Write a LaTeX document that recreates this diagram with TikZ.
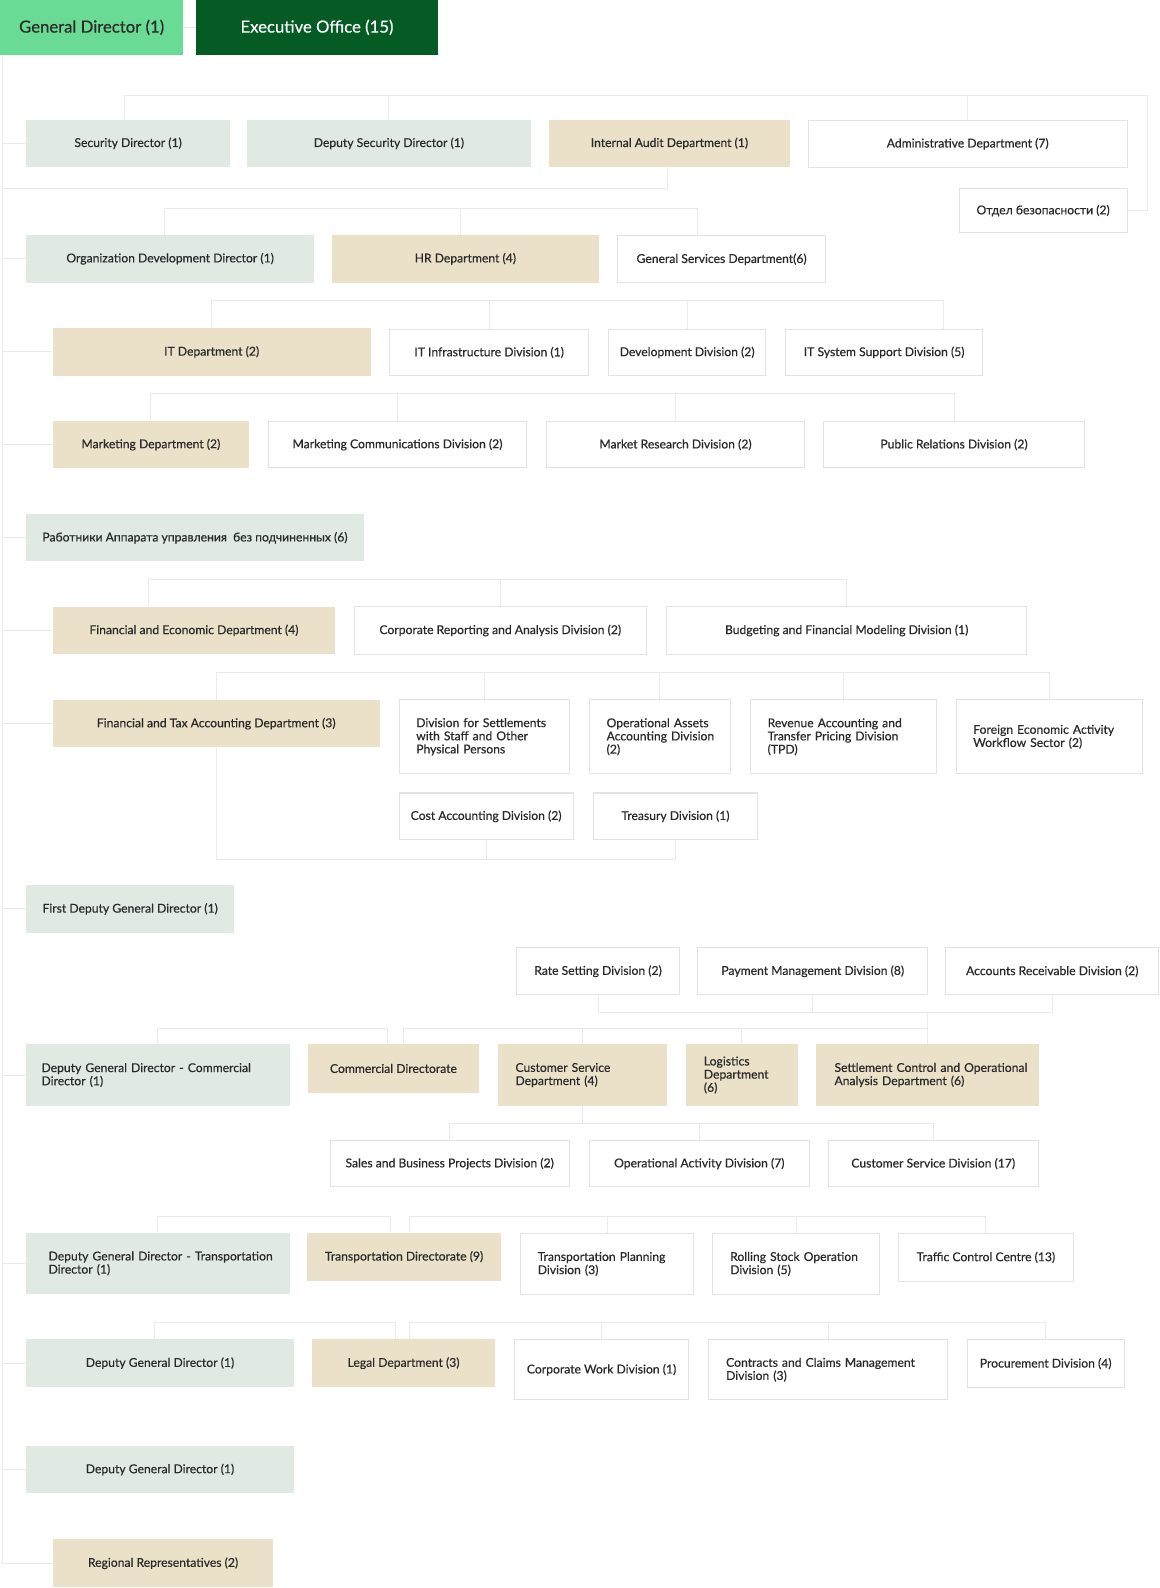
\documentclass[tikz,border=0pt]{standalone}
\usepackage{fontspec}
\setmainfont{Lato}
\newfontfamily\bodyfont{Lato}[FakeBold=0.5]
\definecolor{gdc}{HTML}{6ADB95}
\definecolor{eoc}{HTML}{045B24}
\definecolor{dirc}{HTML}{E0EAE2}
\definecolor{depc}{HTML}{EBE1C9}
\definecolor{bordc}{HTML}{E3E3E3}
\definecolor{linec}{HTML}{EAEAEA}
\definecolor{txt}{HTML}{2A2A2A}
\newcommand\bx[8][]{\node[#3, minimum width={#6-#4}, minimum height={#7-#5}, #1] (#2) at ({(#4+#6)/2},{(#5+#7)/2}) {#8};}
\newcommand\bxl[8][17]{\pgfmathsetmacro\tw{#6-#4-2*#1}\node[#3, minimum width={#6-#4}, minimum height={#7-#5}, text width=\tw pt, inner xsep=#1pt, align=left] (#2) at ({(#4+#6)/2},{(#5+#7)/2}) {#8};}
\begin{document}
\begin{tikzpicture}[x=1pt,y=-1pt,
  conn/.style={draw=linec, line width=1pt},
  base/.style={rectangle, inner sep=0pt, font=\bodyfont\fontsize{12}{13}\selectfont, text=txt},
  dir/.style={base, fill=dirc},
  dep/.style={base, fill=depc},
  div/.style={base, fill=white, draw=bordc, line width=1pt},
  gdbox/.style={base, fill=gdc, font=\bodyfont\fontsize{16.5}{19}\selectfont, text=txt},
  eobox/.style={base, fill=eoc, font=\bodyfont\fontsize{16.5}{19}\selectfont, text=white}]
\useasboundingbox (0,0) rectangle (1145,1568);
\fill[white] (0,0) rectangle (1145,1568);
% boxes
\bx{gd}{gdbox}{0}{0}{181}{54}{General Director (1)}
\bx{eo}{eobox}{194}{0}{432}{54}{Executive Office (15)}
\bx{sec}{dir}{26}{118}{227}{165}{Security Director (1)}
\bx{dsec}{dir}{244}{118}{524}{165}{Deputy Security Director (1)}
\bx{ia}{dep}{542}{118}{780}{165}{Internal Audit Department (1)}
\bx{adm}{div}{798}{119}{1113}{165}{Administrative Department (7)}
\bx{otd}{div}{947}{186}{1113}{230}{Отдел безопасности (2)}
\bx{odd}{dir}{26}{232}{310}{279}{Organization Development Director (1)}
\bx{hr}{dep}{328}{232}{591}{279}{HR Department (4)}
\bx{gs}{div}{610}{233}{815}{279}{General Services Department(6)}
\bx{itd}{dep}{52}{324}{366}{371}{IT Department (2)}
\bx{iti}{div}{385}{325}{581}{371}{IT Infrastructure Division (1)}
\bx{dev}{div}{601}{325}{756}{371}{Development Division (2)}
\bx{its}{div}{776}{325}{970}{371}{IT System Support Division (5)}
\bx{mkt}{dep}{52}{416}{246}{462}{Marketing Department (2)}
\bx{mc}{div}{265}{416}{520}{462}{Marketing Communications Division (2)}
\bx{mr}{div}{540}{416}{794}{462}{Market Research Division (2)}
\bx{pr}{div}{813}{416}{1071}{462}{Public Relations Division (2)}
\bx{rab}{dir}{26}{508}{359}{554}{Работники Аппарата управления\ \ без подчиненных (6)}
\bx{fe}{dep}{52}{599}{331}{646}{Financial and Economic Department (4)}
\bx{cr}{div}{350}{599}{638}{646}{Corporate Reporting and Analysis Division (2)}
\bx{bfm}{div}{658}{599}{1014}{646}{Budgeting and Financial Modeling Division (1)}
\bx{fta}{dep}{52}{691}{375}{738}{Financial and Tax Accounting Department (3)}
\bxl{dss}{div}{394}{691}{562}{764}{\mbox{Division for Settlements}\\\mbox{with Staff and Other}\\\mbox{Physical Persons}}
\bxl{opa}{div}{582}{691}{721}{764}{\mbox{Operational Assets}\\\mbox{Accounting Division}\\(2)}
\bxl{rev}{div}{741}{691}{925}{764}{\mbox{Revenue Accounting and}\\\mbox{Transfer Pricing Division}\\(TPD)}
\bxl{fea}{div}{944}{691}{1128}{764}{\mbox{Foreign Economic Activity}\\\mbox{Workflow Sector (2)}}
\bx{cst}{div}{394}{783}{566}{829}{Cost Accounting Division (2)}
\bx{trs}{div}{586}{783}{748}{829}{Treasury Division (1)}
\bx{fdgd}{dir}{26}{874}{231}{921}{First Deputy General Director (1)}
\bx{rsd}{div}{510}{936}{671}{982}{Rate Setting Division (2)}
\bx{pmd}{div}{689}{936}{916}{982}{Payment Management Division (8)}
\bx{ard}{div}{934}{936}{1144}{982}{Accounts Receivable Division (2)}
\bxl[15]{dgdc}{dir}{26}{1031}{286}{1092}{\mbox{Deputy General Director - Commercial}\\Director (1)}
\bx{cd}{dep}{304}{1031}{473}{1079}{Commercial Directorate}
\bxl{csd}{dep}{492}{1031}{659}{1092}{\mbox{Customer Service}\\\mbox{Department (4)}}
\bxl[18]{log}{dep}{677}{1031}{788}{1092}{Logistics\\\mbox{Department}\\(6)}
\bxl[18]{scd}{dep}{806}{1031}{1026}{1092}{\mbox{Settlement Control and Operational}\\\mbox{Analysis Department (6)}}
\bx{sbp}{div}{326}{1126}{562}{1172}{Sales and Business Projects Division (2)}
\bx{oad}{div}{582}{1126}{799}{1172}{Operational Activity Division (7)}
\bx{csdv}{div}{818}{1126}{1025}{1172}{Customer Service Division (17)}
\bxl[22]{dgdt}{dir}{26}{1217}{286}{1278}{\mbox{Deputy General Director - Transportation}\\Director (1)}
\bx{td}{dep}{303}{1217}{495}{1265}{Transportation Directorate (9)}
\bxl{tp}{div}{514}{1218}{685}{1278}{\mbox{Transportation Planning}\\Division (3)}
\bxl{rs}{div}{704}{1218}{868}{1278}{\mbox{Rolling Stock Operation}\\Division (5)}
\bx{tcc}{div}{887}{1218}{1060}{1265}{Traffic Control Centre (13)}
\bx{dgd1}{dir}{26}{1322}{290}{1370}{Deputy General Director (1)}
\bx{lg}{dep}{308}{1322}{489}{1370}{Legal Department (3)}
\bx{cw}{div}{508}{1323}{680}{1382}{Corporate Work Division (1)}
\bxl{cc}{div}{700}{1323}{936}{1382}{\mbox{Contracts and Claims Management}\\Division (3)}
\bx{prc}{div}{955}{1323}{1110}{1370}{Procurement Division (4)}
\bx{dgd2}{dir}{26}{1428}{290}{1474}{Deputy General Director (1)}
\bx{rr}{dep}{52}{1520}{270}{1567}{Regional Representatives (2)}
% connectors
\coordinate (sp) at (2,0);
\draw[conn] (gd.east) -- (eo.west);
\draw[conn] (gd.south -| sp) -- (sp |- rr.west);
\foreach \n in {sec,odd,itd,mkt,rab,fe,fta,fdgd,dgdc,dgdt,dgd1,dgd2,rr}{\draw[conn] (sp |- \n.west) -- (\n.west);}
% row A
\coordinate (yA) at (0,94);
\coordinate (rA) at (1133,94);
\draw[conn] ([xshift=-4pt]sec.north) |- (rA) |- (otd.east);
\draw[conn] (dsec.north) -- (dsec.north |- yA);
\draw[conn] (adm.north) -- (adm.north |- yA);
\coordinate (yIA) at (0,186);
\draw[conn] ([xshift=-2pt]ia.south) |- (sp |- yIA);
% row B
\coordinate (yB) at (0,206);
\draw[conn] ([xshift=-6pt]odd.north) |- ([xshift=-24pt]gs.north |- yB) -- ([xshift=-24pt]gs.north);
\draw[conn] ([xshift=-5pt]hr.north) -- ([xshift=-5pt]hr.north |- yB);
% row C
\coordinate (yC) at (0,297);
\draw[conn] (itd.north) |- ([xshift=59pt]its.north |- yC) -- ([xshift=59pt]its.north);
\draw[conn] (iti.north) -- (iti.north |- yC);
\draw[conn] (dev.north) -- (dev.north |- yC);
% row D
\coordinate (yD) at (0,389);
\draw[conn] (mkt.north) |- (pr.north |- yD) -- (pr.north);
\draw[conn] (mc.north) -- (mc.north |- yD);
\draw[conn] (mr.north) -- (mr.north |- yD);
% row F
\coordinate (yF) at (0,572);
\draw[conn] ([xshift=-45pt]fe.north) |- (bfm.north |- yF) -- (bfm.north);
\draw[conn] (cr.north) -- (cr.north |- yF);
% row G
\coordinate (yG) at (0,664);
\draw[conn] (fta.north) |- (fea.north |- yG) -- (fea.north);
\draw[conn] (dss.north) -- (dss.north |- yG);
\draw[conn] (opa.north) -- (opa.north |- yG);
\draw[conn] (rev.north) -- (rev.north |- yG);
\coordinate (yG2) at (0,849);
\draw[conn] (fta.south) |- (trs.south |- yG2) -- (trs.south);
\draw[conn] (cst.south) -- (cst.south |- yG2);
% row I
\coordinate (yI0) at (0,1000);
\draw[conn] (rsd.south) |- (ard.south |- yI0) -- (ard.south);
\draw[conn] (pmd.south) -- (pmd.south |- yI0);
\draw[conn] (scd.north) -- (scd.north |- yI0);
\coordinate (yI) at (0,1016);
\draw[conn] (dgdc.north) |- ([xshift=-6pt]cd.north |- yI) -- ([xshift=-6pt]cd.north);
\draw[conn] ([xshift=10pt]cd.north) |- (scd.north |- yI);
\draw[conn] (csd.north) -- (csd.north |- yI);
\draw[conn] (log.north) -- (log.north |- yI);
\coordinate (yI2) at (0,1109);
\draw[conn] (sbp.north) |- (csdv.north |- yI2) -- (csdv.north);
\draw[conn] (csd.south) -- (csd.south |- yI2);
\draw[conn] (oad.north) -- (oad.north |- yI2);
% row J
\coordinate (yJ) at (0,1201);
\draw[conn] (dgdt.north) |- ([xshift=-13pt]td.north |- yJ) -- ([xshift=-13pt]td.north);
\draw[conn] ([xshift=5pt]td.north) |- (tcc.north |- yJ) -- (tcc.north);
\draw[conn] (tp.north) -- (tp.north |- yJ);
\draw[conn] (rs.north) -- (rs.north |- yJ);
% row K
\coordinate (yK) at (0,1306);
\draw[conn] ([xshift=-5pt]dgd1.north) |- ([xshift=-8pt]lg.north |- yK) -- ([xshift=-8pt]lg.north);
\draw[conn] ([xshift=6pt]lg.north) |- (prc.north |- yK) -- (prc.north);
\draw[conn] (cw.north) -- (cw.north |- yK);
\draw[conn] (cc.north) -- (cc.north |- yK);
\end{tikzpicture}
\end{document}
